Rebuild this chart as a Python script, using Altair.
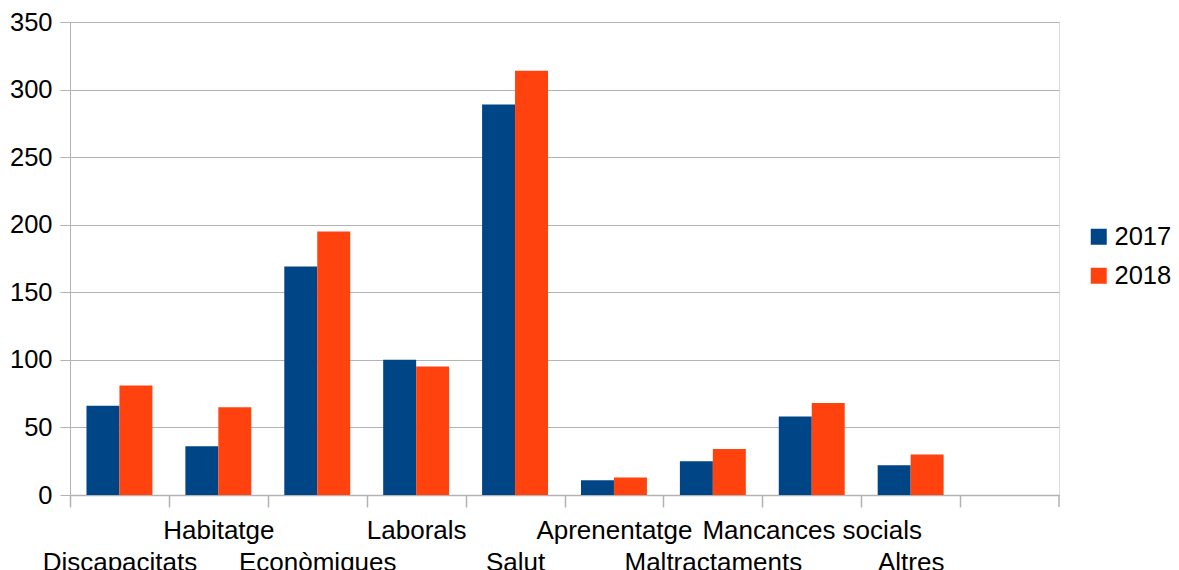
import json
import altair as alt
import pandas as pd

categories = ["Discapacitats", "Habitatge", "Econòmiques", "Laborals", "Salut",
              "Aprenentatge", "Maltractaments", "Mancances socials", "Altres"]
values_2017 = [66, 36, 169, 100, 289, 11, 25, 58, 22]
values_2018 = [81, 65, 195, 95, 314, 13, 34, 68, 30]
years = ["2017", "2018"]
colors = ["#004586", "#ff420e"]
y_ticks = [0, 50, 100, 150, 200, 250, 300, 350]

rows = []
for c, a, b in zip(categories, values_2017, values_2018):
    rows.append({"cat": c, "year": years[0], "value": a})
    rows.append({"cat": c, "year": years[1], "value": b})
df = pd.DataFrame(rows)

W, H = 989, 473
domain = categories + [" "]
step = W / len(domain)
GRAY = "#b3b3b3"
FONT = "Liberation Sans"
FS = 25.5
FSX = 26

lower = categories[0::2]
label_expr = ("indexof(" + json.dumps(lower, ensure_ascii=False) +
              ", datum.value) >= 0 ? ['', datum.value] : datum.value")

bars = alt.Chart(df).mark_bar().encode(
    x=alt.X("cat:N", sort=domain, title=None,
            scale=alt.Scale(domain=domain, paddingInner=1/3, paddingOuter=1/6),
            axis=alt.Axis(domainColor=GRAY, domainWidth=1.5, tickColor=GRAY, tickSize=12,
                          tickWidth=1.5, tickOffset=-step/2, labelOffset=step/2, grid=False,
                          labelAngle=0, labelFontSize=FSX, labelColor="#000000",
                          labelPadding=10, labelLineHeight=32, labelOverlap=False,
                          labelExpr=label_expr, labelBaseline="top", labelAlign="center",
                          labelLimit=400, labelFont=FONT)),
    xOffset=alt.XOffset("year:N", sort=years,
                        scale=alt.Scale(paddingInner=0, paddingOuter=0)),
    y=alt.Y("value:Q", title=None,
            scale=alt.Scale(domain=[0, 350], nice=False),
            axis=alt.Axis(values=y_ticks, grid=True, gridColor=GRAY, domainColor=GRAY,
                          tickColor=GRAY, tickSize=10, labelPadding=8, labelFontSize=FS,
                          labelColor="#000000", labelFont=FONT)),
    color=alt.Color("year:N", scale=alt.Scale(domain=years, range=colors),
                    legend=alt.Legend(orient="none", legendX=1016, legendY=202, title=None,
                                      symbolType="square", symbolSize=256, labelFontSize=FS,
                                      labelFont=FONT, labelColor="#000000", labelOffset=3,
                                      rowPadding=12, padding=0, symbolStrokeWidth=0)),
)

end_tick = alt.Chart(pd.DataFrame({"k": [0]})).mark_rule(color=GRAY, strokeWidth=1.5).encode(
    x=alt.value(W), y=alt.value(H), y2=alt.value(H + 12)
)

chart = alt.layer(bars, end_tick).properties(
    width=W, height=H,
    autosize=alt.AutoSizeParams(type="none"),
    padding={"left": 62, "top": 14, "right": 1163 - 62 - W, "bottom": 95},
).configure_view(stroke=GRAY, strokeWidth=1).configure(font=FONT)

chart.save("out.html", embed_options={"renderer": "svg", "actions": False})
